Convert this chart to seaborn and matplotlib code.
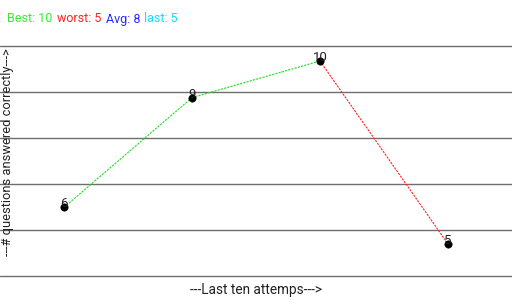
import matplotlib
matplotlib.use("Agg")
import matplotlib.pyplot as plt
import seaborn as sns
import numpy as np

sns.set_style("white")
plt.rcParams['font.family'] = ['Roboto', 'DejaVu Sans']

attempts = [1, 2, 3, 4]
scores = [6, 9, 10, 5]
summary_labels = ["Best: 10", "worst: 5", "Avg: 8", "last: 5"]
summary_colors = ["#33ee33", "#ff2222", "#2a2aff", "#11e0ff"]
up_color = "#22dd22"
down_color = "#ff2222"

fig = plt.figure(figsize=(5.12, 3.07), dpi=100)
ax = fig.add_axes([0, 1 - 276 / 307, 1, 230 / 307])

# grid lines (5 equal bands)
lo, hi = 4.126, 10.41
ax.set_ylim(lo, hi)
ax.set_xlim(0.5, 4.5)
for g in np.linspace(lo, hi, 6):
    ax.axhline(g, color="#6e6e6e", lw=1.0, clip_on=False, zorder=1)

# segments
for i in range(len(scores) - 1):
    c = up_color if scores[i + 1] >= scores[i] else down_color
    sns.lineplot(x=attempts[i:i + 2], y=scores[i:i + 2], ax=ax, color=c,
                 lw=0.8, linestyle=(0, (2, 1)), zorder=2)

sns.scatterplot(x=attempts, y=scores, ax=ax, color="black", s=28,
                edgecolor="black", zorder=3)
for xv, yv in zip(attempts, scores):
    ax.text(xv, yv, str(yv), ha="center", va="baseline", fontsize=9.5,
            color="#222222", zorder=4)

ax.set_xticks([])
ax.set_yticks([])
ax.set_xlabel("")
ax.set_ylabel("")
for s in ax.spines.values():
    s.set_visible(False)
ax.patch.set_alpha(0)

# summary line at top
xs = [7, 57, 106, 144]
for lbl, col, xp in zip(summary_labels, summary_colors, xs):
    fig.text(xp / 512, 1 - 19 / 307, lbl, color=col, fontsize=9,
             ha="left", va="center")

fig.text(256 / 512, 1 - 290 / 307, "---Last ten attemps--->", fontsize=9.8,
         ha="center", va="center", color="#222222")
fig.text(8 / 512, 1 - 152 / 307, "---# questions answered correctly--->",
         fontsize=9.3, rotation=90, ha="center", va="center", color="#222222")

fig.savefig("out.png", dpi=100)
